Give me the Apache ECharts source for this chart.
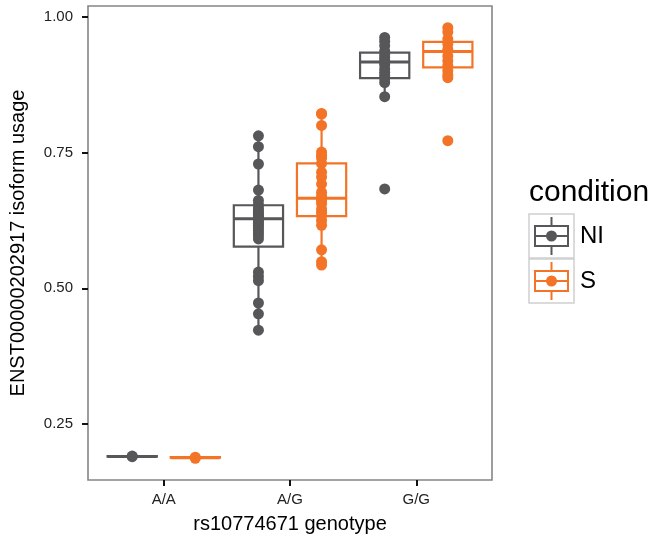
<!DOCTYPE html>
<html><head><meta charset="utf-8">
<script src="https://cdn.jsdelivr.net/npm/echarts@6/dist/echarts.min.js"></script>
<style>html,body{margin:0;padding:0;background:#fff}#c{width:660px;height:544px}</style>
</head><body><div id="c"></div>
<script>
const genotypes = ['A/A', 'A/G', 'G/G'];
const conditions = ['NI', 'S'];
const yTicks = [0.25, 0.5, 0.75, 1.0];

// point values per genotype (A/A, A/G, G/G)
const niAA = [0.191, 0.190];
const niAG = [0.781, 0.761, 0.729, 0.681, 0.662, 0.654, 0.648, 0.644, 0.640, 0.636, 0.633, 0.630, 0.627, 0.624, 0.620, 0.616, 0.612, 0.607, 0.602, 0.597, 0.591, 0.530, 0.522, 0.514, 0.473, 0.453, 0.423];
const niGG = [0.962, 0.955, 0.947, 0.937, 0.930, 0.925, 0.920, 0.916, 0.912, 0.904, 0.898, 0.892, 0.886, 0.879, 0.853, 0.683];
const sAA = [0.189, 0.187];
const sAG = [0.822, 0.821, 0.800, 0.751, 0.745, 0.740, 0.730, 0.714, 0.705, 0.692, 0.677, 0.670, 0.665, 0.662, 0.656, 0.646, 0.640, 0.634, 0.625, 0.616, 0.571, 0.549, 0.543];
const sGG = [0.980, 0.972, 0.959, 0.950, 0.940, 0.928, 0.919, 0.910, 0.901, 0.893, 0.888, 0.772];

// box stats [lower whisker, Q1, median, Q3, upper whisker]
const niBox = [[0.190, 0.190, 0.1905, 0.191, 0.191], [0.423, 0.577, 0.628, 0.653, 0.781], [0.853, 0.887, 0.917, 0.934, 0.962]];
const sBox = [[0.187, 0.188, 0.188, 0.189, 0.189], [0.543, 0.633, 0.666, 0.730, 0.822], [0.888, 0.907, 0.936, 0.954, 0.980]];

const colors = { NI: '#57575a', S: '#f37427' };
const dodge = { NI: -0.25, S: 0.25 };
const boxHalf = 0.195;

function boxData(stats, cond) {
  return stats.map((s, i) => [i + 1 + dodge[cond]].concat(s));
}
function pointData(groups, cond) {
  const out = [];
  groups.forEach((vals, i) => vals.forEach(v => out.push([i + 1 + dodge[cond], v])));
  return out;
}

function renderBox(color) {
  return function (params, api) {
    const x = api.value(0);
    const pMin = api.coord([x, api.value(1)]);
    const pQ1 = api.coord([x, api.value(2)]);
    const pMed = api.coord([x, api.value(3)]);
    const pQ3 = api.coord([x, api.value(4)]);
    const pMax = api.coord([x, api.value(5)]);
    const left = api.coord([x - boxHalf, 0])[0];
    const right = api.coord([x + boxHalf, 0])[0];
    const st = { stroke: color, lineWidth: 2.2, fill: null };
    return {
      type: 'group',
      children: [
        { type: 'line', shape: { x1: pMin[0], y1: pMin[1], x2: pQ1[0], y2: pQ1[1] }, style: st },
        { type: 'line', shape: { x1: pQ3[0], y1: pQ3[1], x2: pMax[0], y2: pMax[1] }, style: st },
        { type: 'rect', shape: { x: left, y: pQ3[1], width: right - left, height: pQ1[1] - pQ3[1] }, style: { stroke: color, lineWidth: 2.2, fill: '#fff' } },
        { type: 'line', shape: { x1: left, y1: pMed[1], x2: right, y2: pMed[1] }, style: { stroke: color, lineWidth: 3 } }
      ]
    };
  };
}

const font = 'Liberation Sans, Arial, Helvetica, sans-serif';
const chart = echarts.init(document.getElementById('c'), null, { renderer: 'canvas' });

function legendKey(y, color, label) {
  const x0 = 529, w = 45, h = 44, cx = x0 + w / 2, cy = y + h / 2;
  return [
    { type: 'rect', shape: { x: x0, y: y, width: w, height: h }, style: { fill: '#fff', stroke: '#cfcfcf', lineWidth: 1.5 } },
    { type: 'line', shape: { x1: cx, y1: y + 3, x2: cx, y2: y + h - 3 }, style: { stroke: color, lineWidth: 2 } },
    { type: 'rect', shape: { x: x0 + 6, y: cy - 10, width: w - 12, height: 20 }, style: { fill: '#fff', stroke: color, lineWidth: 2 } },
    { type: 'line', shape: { x1: x0 + 6, y1: cy, x2: x0 + w - 6, y2: cy }, style: { stroke: color, lineWidth: 2 } },
    { type: 'circle', shape: { cx: cx, cy: cy, r: 5.5 }, style: { fill: color } },
    { type: 'text', style: { x: 580, y: cy, text: label, fill: '#000', font: '24px ' + font, verticalAlign: 'middle' } }
  ];
}

chart.setOption({
  backgroundColor: '#fff',
  animation: false,
  grid: { left: 86, right: 168, top: 6, bottom: 64, show: true, borderColor: '#858585', borderWidth: 1.6, backgroundColor: '#fff' },
  xAxis: {
    type: 'value', min: 0.4, max: 3.6,
    name: 'rs10774671 genotype', nameLocation: 'middle', nameGap: 34,
    nameTextStyle: { fontSize: 20, color: '#000', fontFamily: font },
    axisLine: { show: false },
    splitLine: { show: false },
    axisTick: { show: true, customValues: [1, 2, 3], length: 6, lineStyle: { color: '#111', width: 2 } },
    axisLabel: { customValues: [1, 2, 3], formatter: v => genotypes[Math.round(v) - 1], fontSize: 15, color: '#222', margin: 12, fontFamily: font }
  },
  yAxis: {
    type: 'value', min: 0.147, max: 1.02,
    name: 'ENST00000202917 isoform usage', nameLocation: 'middle', nameGap: 60, nameRotate: 90,
    nameTextStyle: { fontSize: 20, color: '#000', fontFamily: font },
    axisLine: { show: false },
    splitLine: { show: false },
    axisTick: { show: true, customValues: yTicks, length: 6, lineStyle: { color: '#111', width: 2 } },
    axisLabel: { customValues: yTicks, formatter: v => v.toFixed(2), fontSize: 15, color: '#222', margin: 15, fontFamily: font }
  },
  series: [
    { name: 'NI', type: 'custom', renderItem: renderBox(colors.NI), data: boxData(niBox, 'NI'), encode: { x: 0, y: [1, 2, 3, 4, 5] }, z: 2 },
    { name: 'S', type: 'custom', renderItem: renderBox(colors.S), data: boxData(sBox, 'S'), encode: { x: 0, y: [1, 2, 3, 4, 5] }, z: 2 },
    { name: 'NI pts', type: 'scatter', data: pointData([niAA, niAG, niGG], 'NI'), symbolSize: 11, itemStyle: { color: colors.NI, opacity: 1 }, z: 3 },
    { name: 'S pts', type: 'scatter', data: pointData([sAA, sAG, sGG], 'S'), symbolSize: 11, itemStyle: { color: colors.S, opacity: 1 }, z: 3 }
  ],
  graphic: [
    { type: 'text', style: { x: 529, y: 193, text: 'condition', fill: '#000', font: '30px ' + font, verticalAlign: 'middle' } }
  ].concat(legendKey(214, colors.NI, conditions[0])).concat(legendKey(259, colors.S, conditions[1]))
});
</script></body></html>
